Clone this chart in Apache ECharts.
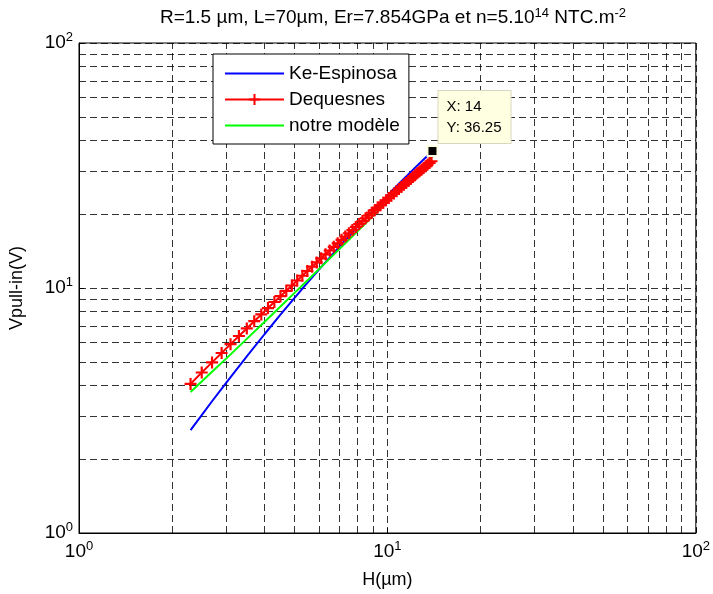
<!DOCTYPE html>
<html>
<head>
<meta charset="utf-8">
<script src="https://cdn.jsdelivr.net/npm/echarts@6/dist/echarts.min.js"></script>
<style>
  html, body { margin: 0; padding: 0; background: #fff; }
  #chart { width: 713px; height: 594px; }
</style>
</head>
<body>
<div id="chart"></div>
<script>
// H (µm) samples of the Dequesnes curve (markers every 0.2)
var hRed = [2.3, 2.5, 2.7, 2.9, 3.1, 3.3, 3.5, 3.7, 3.9, 4.1, 4.3, 4.5, 4.7, 4.9, 5.1, 5.3, 5.5, 5.7, 5.9,
    6.1, 6.3, 6.5, 6.7, 6.9, 7.1, 7.3, 7.5, 7.7, 7.9, 8.1, 8.3, 8.5, 8.7, 8.9, 9.1, 9.3, 9.5, 9.7, 9.9,
    10.1, 10.3, 10.5, 10.7, 10.9, 11.1, 11.3, 11.5, 11.7, 11.9, 12.1, 12.3, 12.5, 12.7, 12.9, 13.1, 13.3,
    13.5, 13.7, 13.9];
var vRed = [4.06, 4.52, 4.97, 5.43, 5.90, 6.37, 6.84, 7.32, 7.80, 8.28, 8.77, 9.26, 9.74, 10.24, 10.73, 11.22,
    11.73, 12.22, 12.72, 13.22, 13.72, 14.22, 14.72, 15.22, 15.73, 16.23, 16.73, 17.24, 17.75, 18.25, 18.76,
    19.26, 19.76, 20.28, 20.78, 21.29, 21.79, 22.30, 22.80, 23.31, 23.82, 24.33, 24.83, 25.34, 25.85, 26.36,
    26.85, 27.36, 27.86, 28.38, 28.88, 29.38, 29.89, 30.40, 30.90, 31.40, 31.90, 32.40, 32.90];

// H samples for the two plain lines
var hLine = [2.3, 2.5, 2.7, 3, 3.5, 4, 4.5, 5, 5.5, 6, 7, 8, 9, 10, 11, 12, 13, 14];
var vBlue = [2.63, 3.03, 3.45, 4.10, 5.26, 6.49, 7.78, 9.11, 10.49, 11.89, 14.79, 17.77, 20.80, 23.87, 26.96, 30.06, 33.16, 36.25];
var vGreen = [3.76, 4.15, 4.55, 5.15, 6.20, 7.28, 8.40, 9.55, 10.73, 11.94, 14.44, 17.05, 19.74, 22.54, 25.42, 28.37, 31.40, 34.5];

// datatip
var tipX = 14, tipY = 36.25;

// minor grid positions (log decades)
var minorGrid = [2, 3, 4, 5, 6, 7, 8, 9, 20, 30, 40, 50, 60, 70, 80, 90];

var names = ['Ke-Espinosa', 'Dequesnes', 'notre modèle'];

function pairs(xs, ys) {
    return xs.map(function (x, i) { return [x, ys[i]]; });
}

function powLabel(v) {
    var e = Math.round(Math.log(v) / Math.LN10);
    return '10{s|' + e + '}';
}

var FONT = 'Liberation Sans';
var gridDash = { color: 'rgba(0,0,0,0.8)', width: 1, type: [7, 4] };
var plusPath = 'path://M4.1,0H5.9V4.1H10V5.9H5.9V10H4.1V5.9H0V4.1H4.1Z';
var supStyle = { fontFamily: FONT, fontSize: 13, verticalAlign: 'top', padding: [0, 0, 11, 0] };

var myChart = echarts.init(document.getElementById('chart'));
var option = {
    backgroundColor: '#fff',
    animation: false,
    textStyle: { fontFamily: FONT },
    title: {
        text: 'R=1.5 µm, L=70µm, Er=7.854GPa et n=5.10{s|14} NTC.m{s|-2}',
        left: 388,
        textAlign: 'center',
        top: 2,
        textStyle: {
            fontFamily: FONT,
            fontSize: 19,
            fontWeight: 'normal',
            color: '#000',
            rich: {
                s: { fontFamily: FONT, fontSize: 13, verticalAlign: 'top', padding: [0, 0, 9, 0] }
            }
        }
    },
    grid: {
        left: 75, right: 12, top: 43, bottom: 57,
        show: true,
        borderColor: '#000',
        borderWidth: 1,
        backgroundColor: '#fff'
    },
    legend: {
        data: [
            { name: names[0], itemStyle: { opacity: 0 } },
            { name: names[1] },
            { name: names[2], itemStyle: { opacity: 0 } }
        ],
        orient: 'vertical',
        left: 213,
        top: 54,
        z: 20,
        padding: [10, 9, 9, 11],
        itemGap: 7,
        itemWidth: 59,
        itemHeight: 14,
        backgroundColor: '#fff',
        borderColor: '#000',
        borderWidth: 1,
        borderRadius: 0,
        textStyle: { fontFamily: FONT, fontSize: 19, color: '#000' }
    },
    xAxis: {
        type: 'log',
        logBase: 10,
        min: 1,
        max: 100,
        name: 'H(µm)',
        nameLocation: 'middle',
        nameGap: 38,
        nameTextStyle: { fontFamily: FONT, fontSize: 18, color: '#000' },
        axisLine: { show: true, lineStyle: { color: '#000' } },
        axisTick: { show: true, inside: true, length: 5, lineStyle: { color: '#000' } },
        axisLabel: {
            color: '#000', fontFamily: FONT, fontSize: 19, margin: 7,
            formatter: powLabel,
            rich: { s: supStyle }
        },
        splitLine: { show: true, lineStyle: gridDash }
    },
    yAxis: {
        type: 'log',
        logBase: 10,
        min: 1,
        max: 100,
        name: 'Vpull-in(V)',
        nameLocation: 'middle',
        nameGap: 53,
        nameTextStyle: { fontFamily: FONT, fontSize: 18, color: '#000' },
        axisLine: { show: true, lineStyle: { color: '#000' } },
        axisTick: { show: true, inside: true, length: 5, lineStyle: { color: '#000' } },
        axisLabel: {
            color: '#000', fontFamily: FONT, fontSize: 19, margin: 6,
            formatter: powLabel,
            rich: { s: supStyle }
        },
        splitLine: { show: true, lineStyle: gridDash }
    },
    series: [
        {
            name: 'grid',
            type: 'line',
            data: [],
            silent: true,
            z: 1,
            markLine: {
                silent: true,
                z: 1,
                symbol: ['none', 'none'],
                label: { show: false },
                lineStyle: gridDash,
                emphasis: { disabled: true },
                data: minorGrid.map(function (v) { return { xAxis: v }; })
                    .concat(minorGrid.map(function (v) { return { yAxis: v }; }))
            }
        },
        {
            name: names[0],
            type: 'line',
            data: pairs(hLine, vBlue),
            showSymbol: false,
            symbol: 'none',
            z: 2,
            lineStyle: { color: '#0000ff', width: 2 },
            itemStyle: { color: '#0000ff' },
            markPoint: {
                symbol: 'rect',
                symbolSize: 10,
                z: 30,
                itemStyle: { color: '#000', borderColor: '#ffffe1', borderWidth: 2 },
                label: {
                    show: true,
                    position: [12, -54],
                    formatter: 'X: ' + tipX + '\nY: ' + tipY,
                    align: 'left',
                    verticalAlign: 'top',
                    fontFamily: FONT,
                    fontSize: 15,
                    lineHeight: 21,
                    color: '#000',
                    backgroundColor: '#ffffe1',
                    borderColor: '#d8d8c0',
                    borderWidth: 1,
                    padding: [5, 9, 5, 8]
                },
                data: [{ coord: [tipX, tipY] }]
            }
        },
        {
            name: names[1],
            type: 'line',
            data: pairs(hRed, vRed),
            symbol: plusPath,
            symbolSize: 12,
            showSymbol: true,
            z: 2,
            lineStyle: { color: '#ff0000', width: 2 },
            itemStyle: { color: '#ff0000' }
        },
        {
            name: names[2],
            type: 'line',
            data: pairs(hLine, vGreen),
            showSymbol: false,
            symbol: 'none',
            z: 2,
            lineStyle: { color: '#00ff00', width: 2 },
            itemStyle: { color: '#00ff00' }
        }
    ]
};
myChart.setOption(option);
</script>
</body>
</html>
